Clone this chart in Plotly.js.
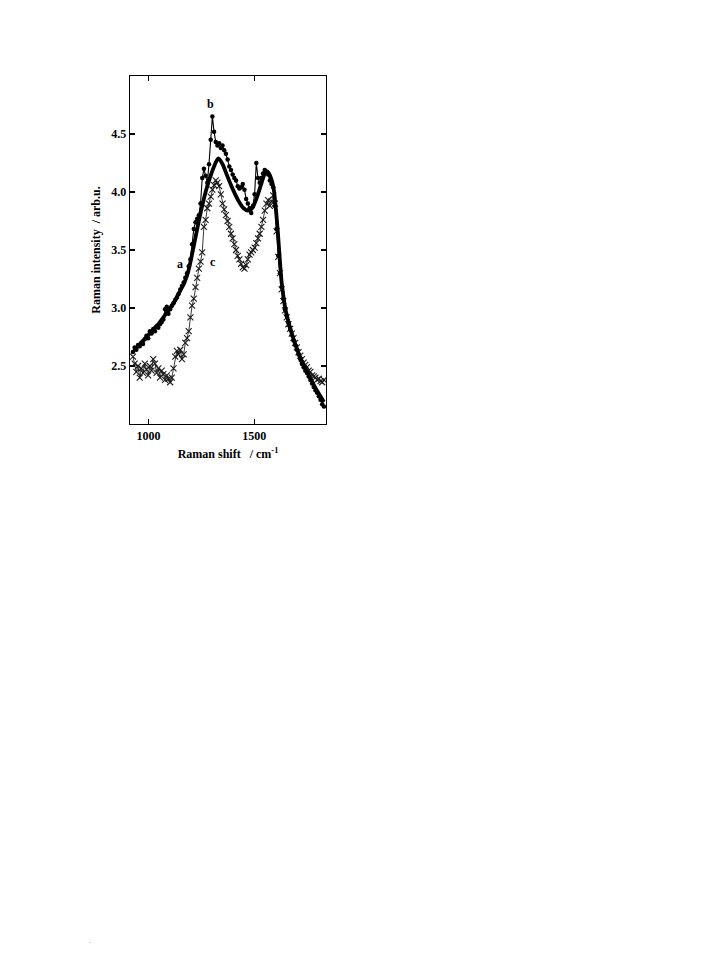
<!DOCTYPE html>
<html>
<head>
<meta charset="utf-8">
<script src="https://cdn.plot.ly/plotly-3.0.1.min.js"></script>
<style>html,body{margin:0;padding:0;background:#fff;}#chart{width:720px;height:957px;}</style>
</head>
<body>
<div id="chart"></div>
<script>
// Raman shift grid (cm^-1) shared by measured spectra b and c
const shift = [926,934,942,950,958,966,974,982,990,998,1006,1014,1022,1030,1038,1046,1054,1062,1070,1078,1086,1094,1102,1110,1118,1126,1134,1142,1150,1158,1166,1174,1182,1190,1198,1206,1214,1222,1230,1238,1246,1254,1262,1270,1278,1286,1294,1302,1310,1318,1326,1334,1342,1350,1358,1366,1374,1382,1390,1398,1406,1414,1422,1430,1438,1446,1454,1462,1470,1478,1486,1494,1502,1510,1518,1526,1534,1542,1550,1558,1566,1574,1582,1590,1598,1606,1614,1622,1630,1638,1646,1654,1662,1670,1678,1686,1694,1702,1710,1718,1726,1734,1742,1750,1758,1766,1774,1782,1790,1798,1806,1814,1822,1830];

// spectrum b (filled dots)
const spectrumB = [2.62,2.66,2.64,2.68,2.67,2.70,2.69,2.73,2.76,2.74,2.80,2.78,2.82,2.80,2.84,2.83,2.86,2.88,2.90,2.99,3.01,2.95,2.99,3.02,3.04,3.07,3.09,3.12,3.16,3.19,3.22,3.26,3.30,3.36,3.42,3.55,3.68,3.74,3.77,3.80,3.90,4.12,4.20,4.14,4.08,4.24,4.45,4.65,4.52,4.43,4.40,4.42,4.38,4.40,4.36,4.33,4.28,4.22,4.19,4.15,4.12,4.10,4.05,4.03,4.04,4.07,4.02,3.94,3.90,3.86,3.82,3.88,3.98,4.25,4.12,4.08,4.12,4.16,4.19,4.17,4.15,4.10,4.07,4.04,3.88,3.68,3.45,3.30,3.18,3.08,2.99,2.93,2.87,2.82,2.77,2.72,2.68,2.64,2.60,2.56,2.52,2.49,2.46,2.44,2.41,2.38,2.35,2.32,2.29,2.27,2.24,2.21,2.17,2.15];

// spectrum c (crosses)
const spectrumC = [2.58,2.52,2.45,2.50,2.40,2.48,2.44,2.52,2.47,2.42,2.50,2.46,2.56,2.52,2.44,2.48,2.40,2.46,2.43,2.38,2.42,2.39,2.36,2.40,2.48,2.58,2.63,2.60,2.64,2.56,2.60,2.70,2.74,2.80,2.92,3.02,3.08,3.18,3.26,3.34,3.40,3.48,3.70,3.76,3.86,3.90,3.96,4.02,4.06,4.10,4.08,4.05,3.98,3.90,3.85,3.80,3.75,3.70,3.64,3.60,3.55,3.50,3.45,3.42,3.38,3.35,3.34,3.37,3.42,3.46,3.48,3.50,3.52,3.56,3.60,3.64,3.70,3.76,3.84,3.90,3.93,3.88,3.92,3.97,3.90,3.66,3.44,3.30,3.16,3.06,2.98,2.92,2.86,2.82,2.78,2.74,2.70,2.66,2.62,2.59,2.56,2.53,2.51,2.49,2.46,2.45,2.42,2.41,2.40,2.38,2.39,2.37,2.36,2.38];

// curve a (smooth thick line)
const fitShift = [930,950,970,990,1010,1030,1050,1070,1090,1110,1130,1150,1170,1190,1210,1230,1250,1270,1290,1310,1330,1350,1370,1390,1410,1430,1450,1470,1490,1510,1530,1550,1560,1570,1590,1610,1630,1650,1670,1690,1710,1730,1750,1770,1790,1810,1830];
const fitA = [2.64,2.67,2.71,2.75,2.79,2.83,2.87,2.92,2.97,3.02,3.08,3.15,3.22,3.33,3.50,3.68,3.85,4.00,4.12,4.22,4.29,4.24,4.15,4.06,3.98,3.91,3.86,3.84,3.86,3.94,4.05,4.16,4.18,4.16,4.05,3.70,3.22,2.97,2.83,2.71,2.61,2.52,2.45,2.38,2.31,2.25,2.19];

// curve labels
const labelText = ['a','b','c'];
const labelX = [1147,1294,1304];
const labelY = [3.38,4.76,3.40];

const xTicks = [1000,1500];
const yTicks = [2.5,3.0,3.5,4.0,4.5];
const yTickText = ['2.5','3.0','3.5','4.0','4.5'];

const serif = 'Liberation Serif, Times New Roman, serif';

const traces = [
  {x: shift, y: spectrumC, type:'scatter', mode:'lines+markers',
   line:{color:'#222', width:0.9},
   marker:{symbol:'x-thin', size:6, line:{color:'#1a1a1a', width:1.1}},
   hoverinfo:'skip', showlegend:false},
  {x: shift, y: spectrumB, type:'scatter', mode:'lines+markers',
   line:{color:'#000', width:1.1},
   marker:{symbol:'circle', size:4.5, color:'#000'},
   hoverinfo:'skip', showlegend:false},
  {x: fitShift, y: fitA, type:'scatter', mode:'lines',
   line:{color:'#000', width:3.8, shape:'spline', smoothing:0.8},
   hoverinfo:'skip', showlegend:false}
];

const annotations = labelText.map((t,i)=>({
  x: labelX[i], y: labelY[i], xref:'x', yref:'y', text: t, showarrow:false,
  font:{family:serif, size:12, color:'#000', weight:700}
}));
// stray dot near the bottom-left of the page
annotations.push({x:(90-130)/196, y:-(940-424)/348, xref:'paper', yref:'paper', text:'.', showarrow:false,
  font:{family:serif, size:8, color:'#888'}, xanchor:'center', yanchor:'middle'});

const layout = {
  width:720, height:957,
  margin:{l:130, r:394, t:76, b:533},
  paper_bgcolor:'#fff', plot_bgcolor:'#fff',
  showlegend:false,
  xaxis:{
    range:[912,1840], tickvals:xTicks, ticktext:xTicks.map(String),
    ticks:'inside', ticklen:5, tickwidth:1.2, tickcolor:'#000',
    showline:true, linecolor:'#000', linewidth:1.3, mirror:'ticks',
    showgrid:false, zeroline:false,
    tickfont:{family:serif, size:12, color:'#000', weight:700},
    title:{text:'Raman shift   / cm<sup>-1</sup>', standoff:8,
      font:{family:serif, size:12, color:'#000', weight:700}}
  },
  yaxis:{
    range:[2.0,5.0], tickvals:yTicks, ticktext:yTickText,
    ticks:'inside', ticklen:5, tickwidth:1.2, tickcolor:'#000',
    showline:true, linecolor:'#000', linewidth:1.3, mirror:'ticks',
    showgrid:false, zeroline:false,
    tickfont:{family:serif, size:12, color:'#000', weight:700},
    title:{text:'Raman intensity  / arb.u.', standoff:8,
      font:{family:serif, size:12, color:'#000', weight:700}}
  },
  annotations: annotations
};

Plotly.newPlot('chart', traces, layout, {staticPlot:true, displayModeBar:false});
</script>
</body>
</html>
